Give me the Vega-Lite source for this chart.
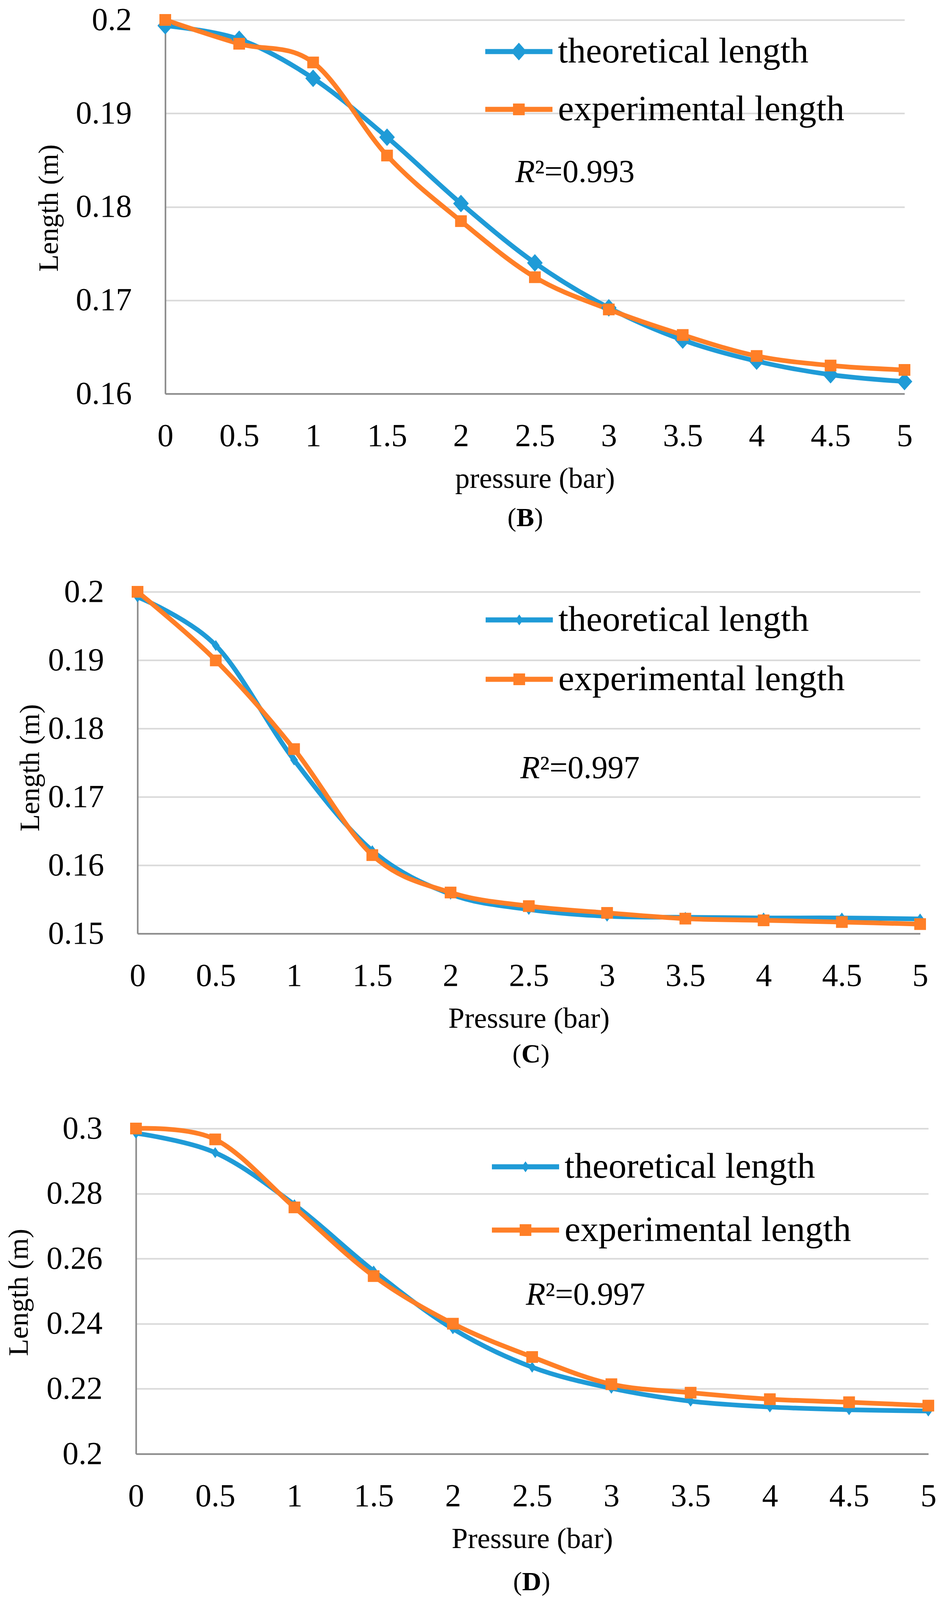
{
  "$schema": "https://vega.github.io/schema/vega-lite/v6.json",
  "background": "white",
  "padding": {"left": 0, "top": 10, "right": 0, "bottom": 0},
  "spacing": 113,
  "config": {
    "view": {"stroke": null},
    "font": "Liberation Serif",
    "text": {"font": "Liberation Serif", "color": "black"},
    "axis": {
      "labelFont": "Liberation Serif", "labelFontSize": 82, "labelColor": "black",
      "titleFont": "Liberation Serif", "titleColor": "black", "titleFontWeight": "normal",
      "ticks": false, "tickSize": 0, "domainColor": "#898989", "domainWidth": 4,
      "gridColor": "#D9D9D9", "gridWidth": 4, "labelFlush": false, "labelOverlap": false, "format": "~g"
    },
    "axisX": {"grid": false, "labelPadding": 68, "titlePadding": 33, "titleFontSize": 74},
    "axisY": {"grid": true, "labelPadding": 86, "titleFontSize": 72, "titleAngle": 270, "titleAlign": "center", "titleBaseline": "middle"}
  },
  "datasets": {
    "B": [
      {"pressure": 0, "series": "theoretical length", "length": 0.19938},
      {"pressure": 0.5, "series": "theoretical length", "length": 0.19793},
      {"pressure": 1, "series": "theoretical length", "length": 0.19375},
      {"pressure": 1.5, "series": "theoretical length", "length": 0.18745},
      {"pressure": 2, "series": "theoretical length", "length": 0.18036},
      {"pressure": 2.5, "series": "theoretical length", "length": 0.174},
      {"pressure": 3, "series": "theoretical length", "length": 0.1692},
      {"pressure": 3.5, "series": "theoretical length", "length": 0.16575},
      {"pressure": 4, "series": "theoretical length", "length": 0.16349},
      {"pressure": 4.5, "series": "theoretical length", "length": 0.16204},
      {"pressure": 5, "series": "theoretical length", "length": 0.16131},
      {"pressure": 0, "series": "experimental length", "length": 0.2},
      {"pressure": 0.5, "series": "experimental length", "length": 0.19745},
      {"pressure": 1, "series": "experimental length", "length": 0.19545},
      {"pressure": 1.5, "series": "experimental length", "length": 0.18549},
      {"pressure": 2, "series": "experimental length", "length": 0.17847},
      {"pressure": 2.5, "series": "experimental length", "length": 0.17247},
      {"pressure": 3, "series": "experimental length", "length": 0.16902},
      {"pressure": 3.5, "series": "experimental length", "length": 0.16629},
      {"pressure": 4, "series": "experimental length", "length": 0.16404},
      {"pressure": 4.5, "series": "experimental length", "length": 0.16302},
      {"pressure": 5, "series": "experimental length", "length": 0.16255}
    ],
    "C": [
      {"pressure": 0, "series": "theoretical length", "length": 0.19925},
      {"pressure": 0.5, "series": "theoretical length", "length": 0.19215},
      {"pressure": 1, "series": "theoretical length", "length": 0.1754},
      {"pressure": 1.5, "series": "theoretical length", "length": 0.16213},
      {"pressure": 2, "series": "theoretical length", "length": 0.15577},
      {"pressure": 2.5, "series": "theoretical length", "length": 0.15353},
      {"pressure": 3, "series": "theoretical length", "length": 0.15254},
      {"pressure": 3.5, "series": "theoretical length", "length": 0.15239},
      {"pressure": 4, "series": "theoretical length", "length": 0.15229},
      {"pressure": 4.5, "series": "theoretical length", "length": 0.15229},
      {"pressure": 5, "series": "theoretical length", "length": 0.15214},
      {"pressure": 0, "series": "experimental length", "length": 0.2},
      {"pressure": 0.5, "series": "experimental length", "length": 0.18996},
      {"pressure": 1, "series": "experimental length", "length": 0.17699},
      {"pressure": 1.5, "series": "experimental length", "length": 0.16148},
      {"pressure": 2, "series": "experimental length", "length": 0.15601},
      {"pressure": 2.5, "series": "experimental length", "length": 0.15402},
      {"pressure": 3, "series": "experimental length", "length": 0.15303},
      {"pressure": 3.5, "series": "experimental length", "length": 0.15219},
      {"pressure": 4, "series": "experimental length", "length": 0.15194},
      {"pressure": 4.5, "series": "experimental length", "length": 0.15169},
      {"pressure": 5, "series": "experimental length", "length": 0.15139}
    ],
    "D": [
      {"pressure": 0, "series": "theoretical length", "length": 0.29854},
      {"pressure": 0.5, "series": "theoretical length", "length": 0.29258},
      {"pressure": 1, "series": "theoretical length", "length": 0.27659},
      {"pressure": 1.5, "series": "theoretical length", "length": 0.25622},
      {"pressure": 2, "series": "theoretical length", "length": 0.23845},
      {"pressure": 2.5, "series": "theoretical length", "length": 0.22665},
      {"pressure": 3, "series": "theoretical length", "length": 0.22017},
      {"pressure": 3.5, "series": "theoretical length", "length": 0.2162},
      {"pressure": 4, "series": "theoretical length", "length": 0.21442},
      {"pressure": 4.5, "series": "theoretical length", "length": 0.21358},
      {"pressure": 5, "series": "theoretical length", "length": 0.21317},
      {"pressure": 0, "series": "experimental length", "length": 0.3},
      {"pressure": 0.5, "series": "experimental length", "length": 0.29666},
      {"pressure": 1, "series": "experimental length", "length": 0.27576},
      {"pressure": 1.5, "series": "experimental length", "length": 0.25465},
      {"pressure": 2, "series": "experimental length", "length": 0.24002},
      {"pressure": 2.5, "series": "experimental length", "length": 0.22978},
      {"pressure": 3, "series": "experimental length", "length": 0.22142},
      {"pressure": 3.5, "series": "experimental length", "length": 0.21881},
      {"pressure": 4, "series": "experimental length", "length": 0.21682},
      {"pressure": 4.5, "series": "experimental length", "length": 0.21588},
      {"pressure": 5, "series": "experimental length", "length": 0.21484}
    ]
  },
  "resolve": {
    "scale": {"x": "independent", "y": "independent", "color": "independent"},
    "legend": {"color": "independent"}
  },
  "vconcat": [
    {
      "spacing": 0,
      "resolve": {"scale": {"x": "independent", "y": "independent", "color": "independent"}, "legend": {"color": "independent"}},
      "hconcat": [
        {"width": 89, "height": 10, "data": {"values": [{"a": 1}]}, "mark": {"type": "point", "opacity": 0}},
        {
          "width": 1892, "height": 957,
          "data": {"name": "B"},
          "encoding": {
            "x": {"field": "pressure", "type": "quantitative", "scale": {"domain": [0, 5]},
                  "axis": {"values": [0, 0.5, 1, 1.5, 2, 2.5, 3, 3.5, 4, 4.5, 5], "title": "pressure (bar)"}},
            "y": {"field": "length", "type": "quantitative", "scale": {"domain": [0.16, 0.2], "zero": false},
                  "axis": {"values": [0.16, 0.17, 0.18, 0.19, 0.2], "title": "Length (m)", "titleX": -298, "titleY": 481}}
          },
          "layer": [
            {
              "mark": {"type": "line", "interpolate": "cardinal", "tension": 0, "strokeWidth": 12, "strokeCap": "round", "strokeJoin": "round"},
              "encoding": {
                "color": {"field": "series", "type": "nominal",
                  "scale": {"domain": ["theoretical length", "experimental length"], "range": ["#1F9BD7", "#FF7F27"]},
                  "legend": {"orient": "none", "legendX": 819, "legendY": -5, "title": null, "padding": 0,
                    "symbolSize": 29584, "symbolStrokeWidth": 0, "labelFontSize": 92, "labelFont": "Liberation Serif",
                    "labelColor": "black", "labelLimit": 3000, "labelOffset": 14, "rowPadding": 16,
                    "encode": {"symbols": {"update": {
                      "shape": {"signal": "datum.value === 'theoretical length' ? 'M-1,-0.0756L1,-0.0756L1,0.0756L-1,0.0756ZM0,-0.264L0.233,0L0,0.264L-0.233,0Z' : 'M-1,-0.0756L1,-0.0756L1,0.0756L-1,0.0756ZM-0.174,-0.174L0.174,-0.174L0.174,0.174L-0.174,0.174Z'"},
                      "size": {"value": 29584},
                      "fill": {"signal": "datum.value === 'theoretical length' ? '#1F9BD7' : '#FF7F27'"},
                      "stroke": {"value": "transparent"},
                      "strokeWidth": {"value": 0},
                      "opacity": {"value": 1},
                      "fillOpacity": {"value": 1}
                    }}}}
                }
              }
            },
            {
              "transform": [{"filter": "datum.series === 'theoretical length'"}],
              "mark": {"type": "point", "filled": true, "opacity": 1, "color": "#1F9BD7", "shape": "M0,-1L0.89,0L0,1L-0.89,0Z", "size": 2025}
            },
            {
              "transform": [{"filter": "datum.series === 'experimental length'"}],
              "mark": {"type": "point", "filled": true, "opacity": 1, "color": "#FF7F27", "shape": "square", "size": 900}
            },
            {
              "transform": [{"filter": "datum.pressure === 0 && datum.series === 'theoretical length'"}],
              "mark": {"type": "text", "text": "R", "fontStyle": "italic", "fontSize": 82, "align": "right", "baseline": "middle"},
              "encoding": {"x": {"datum": 2.5, "type": "quantitative"}, "y": {"datum": 0.1837, "type": "quantitative"}}
            },
            {
              "transform": [{"filter": "datum.pressure === 0 && datum.series === 'theoretical length'"}],
              "mark": {"type": "text", "text": "²=0.993", "fontSize": 82, "align": "left", "baseline": "middle"},
              "encoding": {"x": {"datum": 2.5, "type": "quantitative"}, "y": {"datum": 0.1837, "type": "quantitative"}}
            },
            {
              "transform": [{"filter": "datum.pressure === 0 && datum.series === 'theoretical length'"}],
              "mark": {"type": "text", "text": "(", "fontSize": 68, "align": "right", "baseline": "middle", "dx": -23},
              "encoding": {"x": {"datum": 2.435, "type": "quantitative"}, "y": {"datum": 0.14667, "type": "quantitative"}}
            },
            {
              "transform": [{"filter": "datum.pressure === 0 && datum.series === 'theoretical length'"}],
              "mark": {"type": "text", "text": "B", "fontSize": 68, "fontWeight": "bold", "align": "center", "baseline": "middle"},
              "encoding": {"x": {"datum": 2.435, "type": "quantitative"}, "y": {"datum": 0.14667, "type": "quantitative"}}
            },
            {
              "transform": [{"filter": "datum.pressure === 0 && datum.series === 'theoretical length'"}],
              "mark": {"type": "text", "text": ")", "fontSize": 68, "align": "left", "baseline": "middle", "dx": 23},
              "encoding": {"x": {"datum": 2.435, "type": "quantitative"}, "y": {"datum": 0.14667, "type": "quantitative"}}
            }
          ]
        }
      ]
    },
    {
      "spacing": 0,
      "resolve": {"scale": {"x": "independent", "y": "independent", "color": "independent"}, "legend": {"color": "independent"}},
      "hconcat": [
        {"width": 41, "height": 10, "data": {"values": [{"a": 1}]}, "mark": {"type": "point", "opacity": 0}},
        {
          "width": 2003, "height": 875,
          "data": {"name": "C"},
          "encoding": {
            "x": {"field": "pressure", "type": "quantitative", "scale": {"domain": [0, 5]},
                  "axis": {"values": [0, 0.5, 1, 1.5, 2, 2.5, 3, 3.5, 4, 4.5, 5], "title": "Pressure (bar)"}},
            "y": {"field": "length", "type": "quantitative", "scale": {"domain": [0.15, 0.2], "zero": false},
                  "axis": {"values": [0.15, 0.16, 0.17, 0.18, 0.19, 0.2], "title": "Length (m)", "titleX": -275, "titleY": 450}}
          },
          "layer": [
            {
              "mark": {"type": "line", "interpolate": "cardinal", "tension": 0, "strokeWidth": 12, "strokeCap": "round", "strokeJoin": "round"},
              "encoding": {
                "color": {"field": "series", "type": "nominal",
                  "scale": {"domain": ["theoretical length", "experimental length"], "range": ["#1F9BD7", "#FF7F27"]},
                  "legend": {"orient": "none", "legendX": 891, "legendY": -14, "title": null, "padding": 0,
                    "symbolSize": 29584, "symbolStrokeWidth": 0, "labelFontSize": 92, "labelFont": "Liberation Serif",
                    "labelColor": "black", "labelLimit": 3000, "labelOffset": 14, "rowPadding": 20,
                    "encode": {"symbols": {"update": {
                      "shape": {"signal": "datum.value === 'theoretical length' ? 'M-1,-0.0756L1,-0.0756L1,0.0756L-1,0.0756ZM0,-0.163L0.116,0L0,0.163L-0.116,0Z' : 'M-1,-0.0756L1,-0.0756L1,0.0756L-1,0.0756ZM-0.174,-0.174L0.174,-0.174L0.174,0.174L-0.174,0.174Z'"},
                      "size": {"value": 29584},
                      "fill": {"signal": "datum.value === 'theoretical length' ? '#1F9BD7' : '#FF7F27'"},
                      "stroke": {"value": "transparent"},
                      "strokeWidth": {"value": 0},
                      "opacity": {"value": 1},
                      "fillOpacity": {"value": 1}
                    }}}}
                }
              }
            },
            {
              "transform": [{"filter": "datum.series === 'theoretical length'"}],
              "mark": {"type": "point", "filled": true, "opacity": 1, "color": "#1F9BD7", "shape": "M0,-1L0.71,0L0,1L-0.71,0Z", "size": 784}
            },
            {
              "transform": [{"filter": "datum.series === 'experimental length'"}],
              "mark": {"type": "point", "filled": true, "opacity": 1, "color": "#FF7F27", "shape": "square", "size": 900}
            },
            {
              "transform": [{"filter": "datum.pressure === 0 && datum.series === 'theoretical length'"}],
              "mark": {"type": "text", "text": "R", "fontStyle": "italic", "fontSize": 82, "align": "right", "baseline": "middle"},
              "encoding": {"x": {"datum": 2.571, "type": "quantitative"}, "y": {"datum": 0.17415, "type": "quantitative"}}
            },
            {
              "transform": [{"filter": "datum.pressure === 0 && datum.series === 'theoretical length'"}],
              "mark": {"type": "text", "text": "²=0.997", "fontSize": 82, "align": "left", "baseline": "middle"},
              "encoding": {"x": {"datum": 2.571, "type": "quantitative"}, "y": {"datum": 0.17415, "type": "quantitative"}}
            },
            {
              "transform": [{"filter": "datum.pressure === 0 && datum.series === 'theoretical length'"}],
              "mark": {"type": "text", "text": "(", "fontSize": 68, "align": "right", "baseline": "middle", "dx": -25},
              "encoding": {"x": {"datum": 2.514, "type": "quantitative"}, "y": {"datum": 0.13227, "type": "quantitative"}}
            },
            {
              "transform": [{"filter": "datum.pressure === 0 && datum.series === 'theoretical length'"}],
              "mark": {"type": "text", "text": "C", "fontSize": 68, "fontWeight": "bold", "align": "center", "baseline": "middle"},
              "encoding": {"x": {"datum": 2.514, "type": "quantitative"}, "y": {"datum": 0.13227, "type": "quantitative"}}
            },
            {
              "transform": [{"filter": "datum.pressure === 0 && datum.series === 'theoretical length'"}],
              "mark": {"type": "text", "text": ")", "fontSize": 68, "align": "left", "baseline": "middle", "dx": 25},
              "encoding": {"x": {"datum": 2.514, "type": "quantitative"}, "y": {"datum": 0.13227, "type": "quantitative"}}
            }
          ]
        }
      ]
    },
    {
      "spacing": 0,
      "resolve": {"scale": {"x": "independent", "y": "independent", "color": "independent"}, "legend": {"color": "independent"}},
      "hconcat": [
        {"width": 12, "height": 10, "data": {"values": [{"a": 1}]}, "mark": {"type": "point", "opacity": 0}},
        {
          "width": 2028, "height": 833,
          "data": {"name": "D"},
          "encoding": {
            "x": {"field": "pressure", "type": "quantitative", "scale": {"domain": [0, 5]},
                  "axis": {"values": [0, 0.5, 1, 1.5, 2, 2.5, 3, 3.5, 4, 4.5, 5], "title": "Pressure (bar)"}},
            "y": {"field": "length", "type": "quantitative", "scale": {"domain": [0.2, 0.3], "zero": false},
                  "axis": {"values": [0.2, 0.22, 0.24, 0.26, 0.28, 0.3], "title": "Length (m)", "titleX": -300, "titleY": 419}}
          },
          "layer": [
            {
              "mark": {"type": "line", "interpolate": "cardinal", "tension": 0, "strokeWidth": 12, "strokeCap": "round", "strokeJoin": "round"},
              "encoding": {
                "color": {"field": "series", "type": "nominal",
                  "scale": {"domain": ["theoretical length", "experimental length"], "range": ["#1F9BD7", "#FF7F27"]},
                  "legend": {"orient": "none", "legendX": 911, "legendY": 12, "title": null, "padding": 0,
                    "symbolSize": 29584, "symbolStrokeWidth": 0, "labelFontSize": 92, "labelFont": "Liberation Serif",
                    "labelColor": "black", "labelLimit": 3000, "labelOffset": 14, "rowPadding": 30,
                    "encode": {"symbols": {"update": {
                      "shape": {"signal": "datum.value === 'theoretical length' ? 'M-1,-0.0756L1,-0.0756L1,0.0756L-1,0.0756ZM0,-0.163L0.116,0L0,0.163L-0.116,0Z' : 'M-1,-0.0756L1,-0.0756L1,0.0756L-1,0.0756ZM-0.174,-0.174L0.174,-0.174L0.174,0.174L-0.174,0.174Z'"},
                      "size": {"value": 29584},
                      "fill": {"signal": "datum.value === 'theoretical length' ? '#1F9BD7' : '#FF7F27'"},
                      "stroke": {"value": "transparent"},
                      "strokeWidth": {"value": 0},
                      "opacity": {"value": 1},
                      "fillOpacity": {"value": 1}
                    }}}}
                }
              }
            },
            {
              "transform": [{"filter": "datum.series === 'theoretical length'"}],
              "mark": {"type": "point", "filled": true, "opacity": 1, "color": "#1F9BD7", "shape": "M0,-1L0.71,0L0,1L-0.71,0Z", "size": 784}
            },
            {
              "transform": [{"filter": "datum.series === 'experimental length'"}],
              "mark": {"type": "point", "filled": true, "opacity": 1, "color": "#FF7F27", "shape": "square", "size": 900}
            },
            {
              "transform": [{"filter": "datum.pressure === 0 && datum.series === 'theoretical length'"}],
              "mark": {"type": "text", "text": "R", "fontStyle": "italic", "fontSize": 82, "align": "right", "baseline": "middle"},
              "encoding": {"x": {"datum": 2.584, "type": "quantitative"}, "y": {"datum": 0.2489, "type": "quantitative"}}
            },
            {
              "transform": [{"filter": "datum.pressure === 0 && datum.series === 'theoretical length'"}],
              "mark": {"type": "text", "text": "²=0.997", "fontSize": 82, "align": "left", "baseline": "middle"},
              "encoding": {"x": {"datum": 2.584, "type": "quantitative"}, "y": {"datum": 0.2489, "type": "quantitative"}}
            },
            {
              "transform": [{"filter": "datum.pressure === 0 && datum.series === 'theoretical length'"}],
              "mark": {"type": "text", "text": "(", "fontSize": 68, "align": "right", "baseline": "middle", "dx": -25},
              "encoding": {"x": {"datum": 2.497, "type": "quantitative"}, "y": {"datum": 0.16054, "type": "quantitative"}}
            },
            {
              "transform": [{"filter": "datum.pressure === 0 && datum.series === 'theoretical length'"}],
              "mark": {"type": "text", "text": "D", "fontSize": 68, "fontWeight": "bold", "align": "center", "baseline": "middle"},
              "encoding": {"x": {"datum": 2.497, "type": "quantitative"}, "y": {"datum": 0.16054, "type": "quantitative"}}
            },
            {
              "transform": [{"filter": "datum.pressure === 0 && datum.series === 'theoretical length'"}],
              "mark": {"type": "text", "text": ")", "fontSize": 68, "align": "left", "baseline": "middle", "dx": 25},
              "encoding": {"x": {"datum": 2.497, "type": "quantitative"}, "y": {"datum": 0.16054, "type": "quantitative"}}
            }
          ]
        }
      ]
    }
  ]
}
